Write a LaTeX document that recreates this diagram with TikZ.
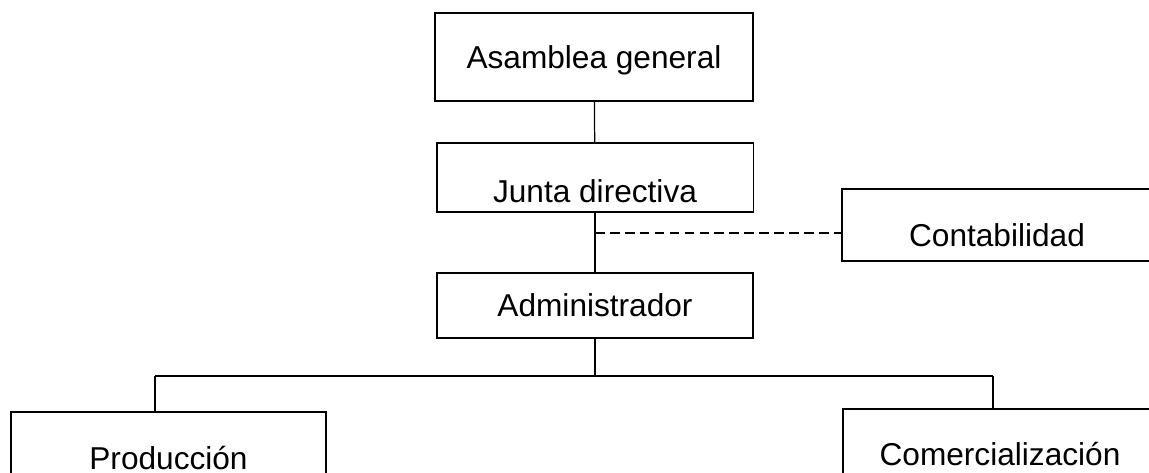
\documentclass[tikz,border=0pt]{standalone}
\usepackage{fontspec}
\setmainfont{Liberation Sans}

\begin{document}
\begin{tikzpicture}[x=0.02cm, y=-0.02cm,
  box/.style={draw, line width=1.1pt, inner sep=0pt, font=\fontsize{18}{20}\selectfont,
              text height=12.96pt, text depth=0pt},
  link/.style={line width=0.7pt}]
  % Page frame (boxes at the edges are cut off)
  \useasboundingbox (0,0) rectangle (1149,473);
  \clip (0,0) rectangle (1149,473);

  % Boxes of the chart, top to bottom
  \node[box, minimum width=6.36cm, minimum height=1.76cm] (asamblea) at (594,57) {Asamblea general};
  \node[box, minimum width=6.34cm, minimum height=1.38cm, text height=28.3pt] (junta) at (595,177.5) {Junta directiva};
  \node[box, minimum width=6.32cm, minimum height=1.30cm] (admin) at (595,305.5) {Administrador};
  \node[box, minimum width=6.20cm, minimum height=1.44cm, text height=24.9pt] (contab) at (997,225) {Contabilidad};
  \node[box, minimum width=6.30cm, minimum height=1.86cm] (prod) at (168.5,458.5) {Producción};
  \node[box, minimum width=6.28cm, minimum height=1.82cm] (comerc) at (1000,454.5) {Comercialización};

  % Helper points for the branches
  \coordinate (staff) at (595,233);
  \coordinate (busL) at (155,376);
  \coordinate (busR) at (993,376);

  % Line of command
  \draw[link] (asamblea) -- (junta);
  \draw[link] (junta) -- (admin);
  \draw[link] (admin) -- (admin |- busL);
  \draw[link] (busL) -- (busR);
  \draw[link] (busL) -- (busL |- prod.north);
  \draw[link] (busR) -- (busR |- comerc.north);

  % Staff unit, dashed
  \draw[link, dash pattern=on 5.5pt off 3pt] (staff) -- (staff -| contab.west);
\end{tikzpicture}
\end{document}
